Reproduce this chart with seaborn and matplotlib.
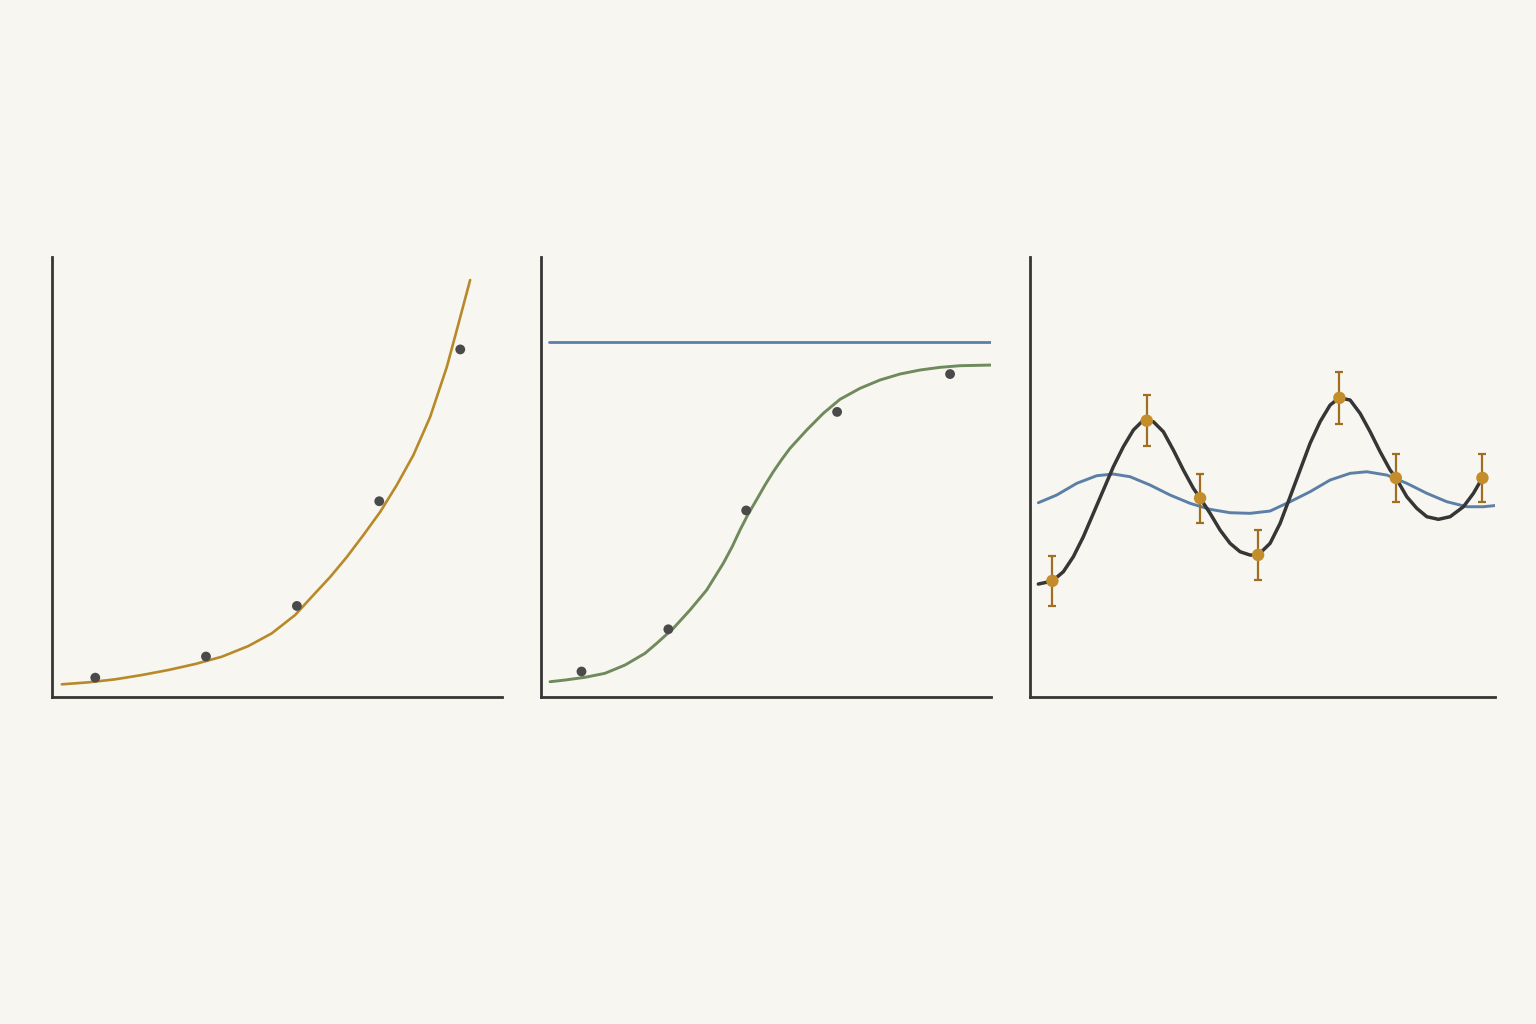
"""Three small curve-fit panels: exponential, logistic, and oscillating series."""

import matplotlib
matplotlib.use("Agg")

import matplotlib.pyplot as plt
import seaborn as sns

PAPER = "#F7F6F0"
INK = "#363636"
GOLD = "#B8892A"
GREEN = "#6F8A5C"
BLUE = "#5B7FA6"
DOT = "#4A4A4A"
ORANGE = "#C48D2C"
ORANGE_DARK = "#A06E22"

# panel 1: exponential fit and observations
exp_fit_x = [0.216, 0.807, 1.40, 1.993, 2.584, 3.178, 3.771, 4.362, 4.882, 5.40, 5.807,
             6.178, 6.549, 6.918, 7.289, 7.66, 8.029, 8.40, 8.771, 8.993, 9.289]
exp_fit_y = [0.289, 0.334, 0.402, 0.50, 0.614, 0.75, 0.916, 1.159, 1.448, 1.864, 2.318,
             2.727, 3.182, 3.682, 4.205, 4.818, 5.50, 6.364, 7.50, 8.341, 9.477]
exp_obs_x = [0.96, 3.42, 5.44, 7.27, 9.07]
exp_obs_y = [0.44, 0.92, 2.07, 4.45, 7.90]

# panel 2: logistic fit, observations and ceiling
log_fit_x = [0.20, 0.533, 0.978, 1.422, 1.867, 2.311, 2.571, 2.94, 3.311, 3.682, 4.051,
             4.25, 4.422, 4.60, 4.80, 4.978, 5.162, 5.35, 5.533, 5.904, 6.273, 6.644,
             7.089, 7.533, 7.978, 8.422, 8.867, 9.311, 10.0]
log_fit_y = [0.348, 0.386, 0.448, 0.539, 0.727, 0.993, 1.22, 1.561, 1.977, 2.432, 3.039,
             3.42, 3.795, 4.15, 4.50, 4.818, 5.12, 5.40, 5.652, 6.068, 6.448, 6.766,
             7.016, 7.205, 7.341, 7.432, 7.493, 7.53, 7.545]
log_obs_x = [0.90, 2.83, 4.56, 6.58, 9.09]
log_obs_y = [0.58, 1.54, 4.24, 6.48, 7.34]
ceiling_x = [0.18, 10.0]
ceiling_y = [8.06, 8.06]

# panel 3: oscillating fit, baseline wave and measurements with error
osc_fit_x = [0.184, 0.496, 0.74, 0.962, 1.184, 1.407, 1.629, 1.851, 2.073, 2.296, 2.482,
             2.593, 2.74, 2.962, 3.184, 3.407, 3.629, 3.778, 4.0, 4.222, 4.444, 4.667,
             4.889, 5.067, 5.333, 5.556, 5.778, 6.0, 6.222, 6.444, 6.667, 6.873, 7.111,
             7.333, 7.556, 7.778, 8.0, 8.127, 8.371, 8.593, 8.816, 9.073, 9.333, 9.629,
             9.851, 10.051]
osc_fit_y = [2.568, 2.636, 2.848, 3.189, 3.643, 4.175, 4.705, 5.234, 5.689, 6.068, 6.257,
             6.28, 6.257, 6.03, 5.614, 5.159, 4.743, 4.523, 4.175, 3.795, 3.493, 3.302,
             3.227, 3.227, 3.493, 3.947, 4.552, 5.159, 5.766, 6.257, 6.636, 6.802, 6.75,
             6.447, 6.03, 5.575, 5.159, 4.984, 4.552, 4.288, 4.098, 4.039, 4.098, 4.325,
             4.63, 4.984]
wave_x = [0.184, 0.593, 1.038, 1.482, 1.851, 2.222, 2.667, 3.111, 3.556, 4.0, 4.444, 4.889,
          5.333, 5.778, 6.222, 6.667, 7.111, 7.482, 7.927, 8.371, 8.816, 9.26, 9.704,
          10.073, 10.333]
wave_y = [4.416, 4.591, 4.857, 5.03, 5.068, 5.007, 4.818, 4.591, 4.402, 4.266, 4.189, 4.175,
          4.227, 4.439, 4.666, 4.932, 5.084, 5.12, 5.045, 4.857, 4.63, 4.439, 4.325,
          4.325, 4.352]
meas_x = [0.496, 2.593, 3.778, 5.067, 6.873, 8.127, 10.051]
meas_y = [2.64, 6.28, 4.52, 3.23, 6.80, 4.98, 4.98]
meas_err = [0.56, 0.58, 0.56, 0.56, 0.59, 0.55, 0.55]

sns.set_theme(style="white")
plt.rcParams["font.family"] = ["DejaVu Sans"]

fig = plt.figure(figsize=(15.36, 10.24), dpi=100, facecolor=PAPER)
ax1 = fig.add_axes([0.0339, 0.3193, 0.2930, 0.4297])
ax2 = fig.add_axes([0.3522, 0.3193, 0.2930, 0.4297])
ax3 = fig.add_axes([0.6706, 0.3193, 0.3027, 0.4297])

sns.lineplot(x=exp_fit_x, y=exp_fit_y, ax=ax1, color=GOLD, linewidth=1.9, sort=False)
sns.scatterplot(x=exp_obs_x, y=exp_obs_y, ax=ax1, color=DOT, s=50, edgecolor="none", zorder=3)
ax1.set_xlim(0, 10)

sns.lineplot(x=ceiling_x, y=ceiling_y, ax=ax2, color=BLUE, linewidth=2.0)
sns.lineplot(x=log_fit_x, y=log_fit_y, ax=ax2, color=GREEN, linewidth=2.1, sort=False)
sns.scatterplot(x=log_obs_x, y=log_obs_y, ax=ax2, color=DOT, s=50, edgecolor="none", zorder=3)
ax2.set_xlim(0, 10)

sns.lineplot(x=wave_x, y=wave_y, ax=ax3, color=BLUE, linewidth=2.1, sort=False)
sns.lineplot(x=osc_fit_x, y=osc_fit_y, ax=ax3, color=INK, linewidth=2.5, sort=False)
ax3.errorbar(meas_x, meas_y, yerr=meas_err, fmt="none", ecolor=ORANGE_DARK,
             elinewidth=1.6, capsize=2.8, capthick=1.6, zorder=3)
sns.scatterplot(x=meas_x, y=meas_y, ax=ax3, color=ORANGE, s=80, edgecolor="none", zorder=4)
ax3.set_xlim(0, 10.33)

for ax in (ax1, ax2, ax3):
    ax.set_ylim(0, 10)
    ax.set_facecolor(PAPER)
    ax.set_xticks([])
    ax.set_yticks([])
    for side in ("top", "right"):
        ax.spines[side].set_visible(False)
    for side in ("left", "bottom"):
        ax.spines[side].set_color(INK)
        ax.spines[side].set_linewidth(2.0)
    for line in ax.lines:
        line.set_solid_capstyle("round")
        line.set_solid_joinstyle("round")

fig.savefig("out.png", dpi=100, facecolor=PAPER)
plt.close(fig)
